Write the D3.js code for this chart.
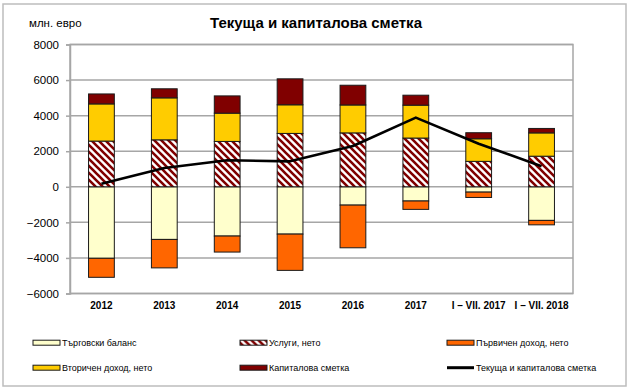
<!DOCTYPE html>
<html>
<head>
<meta charset="utf-8">
<script src="https://cdn.jsdelivr.net/npm/d3@7"></script>
<style>
html,body{margin:0;padding:0;background:#fff;}
svg{display:block;font-family:"Liberation Sans",Arial,sans-serif;}
</style>
</head>
<body>
<svg id="chart" width="630" height="389"></svg>
<script>
const categories = ["2012","2013","2014","2015","2016","2017","I – VII. 2017","I – VII. 2018"];
const trade     = [-4020,-2960,-2770,-2660,-1030,-800,-300,-1890];
const services  = [2570,2640,2550,3000,3030,2740,1430,1720];
const primary   = [-1070,-1600,-900,-2040,-2400,-470,-300,-250];
const secondary = [2090,2360,1590,1610,1570,1850,1270,1310];
const capital   = [560,510,970,1460,1110,560,340,250];
const total     = [170,1060,1490,1430,2290,3890,2420,1160];
const yTicks    = [-6000,-4000,-2000,0,2000,4000,6000,8000];
const seriesNames = {
  trade:"Търговски баланс", services:"Услуги, нето", primary:"Първичен доход, нето",
  secondary:"Вторичен доход, нето", capital:"Капиталова сметка", total:"Текуща и капиталова сметка"
};

const svg = d3.select("#chart");
const defs = svg.append("defs");
const pat = defs.append("pattern").attr("id","hatch").attr("patternUnits","userSpaceOnUse")
  .attr("width",7).attr("height",7);
pat.append("rect").attr("width",7).attr("height",7).attr("fill","#fff");
pat.append("path").attr("d","M-1,-1L8,8M-1,6L1,8M6,-1L8,1")
  .attr("stroke","#800000").attr("stroke-width",2.6);

const fills = {trade:"#FFFFCC", services:"url(#hatch)", primary:"#FF6600", secondary:"#FFCC00", capital:"#800000"};
const keys = ["trade","services","primary","secondary","capital"];
const src = {trade, services, primary, secondary, capital};

const rows = categories.map((c,i)=>{const r={cat:c}; keys.forEach(k=>r[k]=src[k][i]); return r;});

// outer border
svg.append("rect").attr("x",3).attr("y",4).attr("width",623).attr("height",382)
  .attr("fill","none").attr("stroke","#bdbdbd").attr("stroke-width",1.5);

const L=70, R=573, T=44.5, B=293.5;
const x = d3.scaleBand().domain(categories).range([L,R]).paddingInner(0.59).paddingOuter(0.295);
const y = d3.scaleLinear().domain([-6000,8000]).range([B,T]);

// gridlines
svg.append("g").selectAll("line").data(yTicks).join("line")
  .attr("x1",L).attr("x2",R).attr("y1",d=>y(d)).attr("y2",d=>y(d))
  .attr("stroke","#a6a6a6").attr("stroke-width",1.5);
// frame
svg.append("rect").attr("x",L).attr("y",T).attr("width",R-L).attr("height",B-T)
  .attr("fill","none").attr("stroke","#a6a6a6").attr("stroke-width",1.5);

// y axis
const yAxis = svg.append("g").attr("transform",`translate(${L},0)`)
  .call(d3.axisLeft(y).tickValues(yTicks).tickSize(4).tickPadding(7).tickFormat(d3.format("d")));
yAxis.select(".domain").attr("stroke","#a6a6a6").attr("stroke-width",1.5);
yAxis.selectAll(".tick line").attr("stroke","#a6a6a6").attr("stroke-width",1.5);
yAxis.selectAll("text").attr("font-size",11.5).attr("fill","#000").attr("font-family","Liberation Sans, Arial");

// x axis labels
const xAxis = svg.append("g").attr("transform",`translate(0,${B})`)
  .call(d3.axisBottom(x).tickSize(0).tickPadding(8));
xAxis.select(".domain").remove();
xAxis.selectAll("text").attr("font-size",10).attr("font-weight","bold").attr("fill","#000")
  .attr("font-family","Liberation Sans, Arial");

// stacks
const stack = d3.stack().keys(keys).offset(d3.stackOffsetDiverging)(rows);
const bw = x.bandwidth();
svg.append("g").selectAll("g").data(stack).join("g")
  .attr("fill",d=>fills[d.key])
  .selectAll("rect").data(d=>d).join("rect")
  .attr("x",d=>x(d.data.cat))
  .attr("width",bw)
  .attr("y",d=>y(Math.max(d[0],d[1])))
  .attr("height",d=>Math.abs(y(d[0])-y(d[1])))
  .attr("stroke","#1a1a1a").attr("stroke-width",1);

// line
const line = d3.line().x((d,i)=>x(categories[i])+bw/2).y(d=>y(d));
svg.append("path").datum(total).attr("d",line).attr("fill","none")
  .attr("stroke","#000").attr("stroke-width",2.6).attr("stroke-linejoin","round");

// title
svg.append("text").attr("x",316).attr("y",28).attr("text-anchor","middle")
  .attr("font-size",15).attr("font-weight","bold").text("Текуща и капиталова сметка");
svg.append("text").attr("x",29).attr("y",26.5).attr("font-size",11.5).text("млн. евро");

// legend
const legendItems = [
  {k:"trade",x:33,y:342.7},{k:"services",x:240,y:342.7},{k:"primary",x:447,y:342.7},
  {k:"secondary",x:33,y:367.7},{k:"capital",x:240,y:367.7},{k:"total",x:447,y:367.7}
];
const lg = svg.append("g").selectAll("g").data(legendItems).join("g")
  .attr("transform",d=>`translate(${d.x},${d.y})`);
lg.each(function(d){
  const g = d3.select(this);
  if(d.k==="total"){
    g.append("line").attr("x1",0).attr("x2",27).attr("y1",0).attr("y2",0)
      .attr("stroke","#000").attr("stroke-width",3);
  } else {
    g.append("rect").attr("x",0).attr("y",-2.5).attr("width",27).attr("height",5)
      .attr("fill",fills[d.k]).attr("stroke","#1a1a1a").attr("stroke-width",1);
  }
  g.append("text").attr("x",29).attr("y",3.2).attr("font-size",9).text(seriesNames[d.k]);
});
</script>
</body>
</html>
